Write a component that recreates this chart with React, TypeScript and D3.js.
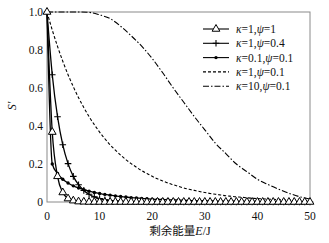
import React from "react";
import * as d3 from "d3";

const E_INT: number[] = d3.range(0, 51);
const E_STEP2: number[] = d3.range(0, 51, 2);

const S_K1_P1: number[] = [
  1, 0.368, 0.135, 0.05, 0.018, 0.007, 0.002, 0.001, 0, 0,
  0, 0, 0, 0, 0, 0, 0, 0, 0, 0,
  0, 0, 0, 0, 0, 0, 0, 0, 0, 0,
  0, 0, 0, 0, 0, 0, 0, 0, 0, 0,
  0, 0, 0, 0, 0, 0, 0, 0, 0, 0, 0,
];
const S_K1_P04: number[] = [
  1, 0.67, 0.449, 0.301, 0.202, 0.135, 0.091, 0.061, 0.041, 0.027,
  0.018, 0.012, 0.008, 0.006, 0.004, 0.002, 0.002, 0.001, 0.001, 0,
  0, 0, 0, 0, 0, 0, 0, 0, 0, 0,
  0, 0, 0, 0, 0, 0, 0, 0, 0, 0,
  0, 0, 0, 0, 0, 0, 0, 0, 0, 0, 0,
];
const S_K01_P01: number[] = [
  1, 0.2, 0.15, 0.12, 0.1, 0.085, 0.074, 0.065, 0.057, 0.05,
  0.045, 0.04, 0.036, 0.032, 0.029, 0.026, 0.023, 0.021, 0.019, 0.017,
  0.015, 0.014, 0.013, 0.012, 0.011, 0.01, 0.009, 0.008, 0.007, 0.007,
  0.006, 0.006, 0.005, 0.005, 0.004, 0.004, 0.004, 0.003, 0.003, 0.003,
  0.003, 0.002, 0.002, 0.002, 0.002, 0.002, 0.001, 0.001, 0.001, 0.001, 0.001,
];
const S_K1_P01: number[] = [
  1, 0.905, 0.819, 0.741, 0.67, 0.607, 0.549, 0.497, 0.449, 0.407,
  0.368, 0.333, 0.301, 0.273, 0.247, 0.223, 0.202, 0.183, 0.165, 0.15,
  0.135, 0.122, 0.111, 0.1, 0.091, 0.082, 0.074, 0.067, 0.061, 0.055,
  0.05, 0.045, 0.041, 0.037, 0.033, 0.03, 0.027, 0.025, 0.022, 0.02,
  0.018, 0.017, 0.015, 0.014, 0.012, 0.011, 0.01, 0.009, 0.008, 0.007, 0.007,
];
const S_K10_P01: number[] = [
  1, 1, 1, 1, 0.998, 0.985, 0.965, 0.925, 0.875, 0.82,
  0.755, 0.68, 0.6, 0.525, 0.45, 0.38, 0.31, 0.255, 0.2, 0.16,
  0.12, 0.092, 0.068, 0.046, 0.028, 0.015,
];

const X_TICKS: number[] = [0, 10, 20, 30, 40, 50];
const Y_TICKS: number[] = [0, 0.2, 0.4, 0.6, 0.8, 1.0];

const LEGEND = [
  { k: "1", p: "1", marker: "tri", dash: "" },
  { k: "1", p: "0.4", marker: "plus", dash: "" },
  { k: "0.1", p: "0.1", marker: "dot", dash: "" },
  { k: "1", p: "0.1", marker: "none", dash: "3,2" },
  { k: "10", p: "0.1", marker: "none", dash: "6,2,1.5,2" },
];

const W = 329;
const H = 243;
const x = d3.scaleLinear().domain([0, 50]).range([47, 310]);
const y = d3.scaleLinear().domain([0, 1]).range([202, 12]);

const line = d3
  .line<[number, number]>()
  .x((d) => x(d[0]))
  .y((d) => y(d[1]))
  .curve(d3.curveMonotoneX);

const zip = (xs: number[], ys: number[]): [number, number][] =>
  xs.map((e, i) => [e, ys[i]] as [number, number]);

const triPath = d3.symbol(d3.symbolTriangle, 26)() as string;
const plusPath = "M-3.3,0H3.3M0,-3.3V3.3";

function Marker({ type, cx, cy }: { type: string; cx: number; cy: number }) {
  if (type === "tri")
    return (
      <path d={triPath} transform={`translate(${cx},${cy})`} fill="#fff" stroke="#000" strokeWidth={1} />
    );
  if (type === "plus")
    return <path d={plusPath} transform={`translate(${cx},${cy})`} stroke="#000" strokeWidth={1.1} />;
  if (type === "dot") return <circle cx={cx} cy={cy} r={1.7} fill="#000" />;
  return null;
}

const serif = "'Liberation Serif', 'Times New Roman', serif";

export default function App() {
  const dotData = zip(E_INT, S_K01_P01);
  const plusData = zip(E_INT, S_K1_P04);
  const triData = zip(E_INT, S_K1_P1);
  return (
    <svg
      width={W}
      height={H}
      style={{ position: "fixed", left: 0, top: 0, background: "#fff" }}
      fontFamily={serif}
    >
      <rect x={0} y={0} width={W} height={H} fill="#fff" />
      <rect
        x={x(0)}
        y={y(1)}
        width={x(50) - x(0)}
        height={y(0) - y(1)}
        fill="none"
        stroke="#8a8a8a"
        strokeWidth={1}
      />
      {Y_TICKS.map((t) => (
        <text key={"y" + t} x={43} y={y(t) + 4} textAnchor="end" fontSize={11.5} fill="#111">
          {t === 0 ? "0" : t.toFixed(1)}
        </text>
      ))}
      {X_TICKS.map((t) => (
        <text key={"x" + t} x={x(t)} y={220} textAnchor="middle" fontSize={11.5} fill="#111">
          {t}
        </text>
      ))}
      <text
        transform={`translate(16,106) rotate(-90)`}
        textAnchor="middle"
        fontSize={12}
        fontStyle="italic"
        fill="#111"
      >
        S'
      </text>
      <text x={180} y={235} textAnchor="middle" fontSize={12} fill="#111">
        <tspan fontFamily="'Noto Sans CJK SC', sans-serif" fontSize={11.5}>剩余能量</tspan>
        <tspan fontStyle="italic">E</tspan>
        <tspan>/J</tspan>
      </text>
      <path d={line(zip(E_STEP2, S_K10_P01)) as string} fill="none" stroke="#000" strokeWidth={1.1} strokeDasharray="6,2,1.5,2" />
      <path d={line(zip(E_INT, S_K1_P01)) as string} fill="none" stroke="#000" strokeWidth={1.1} strokeDasharray="3,2" />
      <path d={line(dotData) as string} fill="none" stroke="#000" strokeWidth={1.3} />
      {dotData.map((d, i) => (
        <Marker key={"d" + i} type="dot" cx={x(d[0])} cy={y(d[1])} />
      ))}
      <path d={line(plusData) as string} fill="none" stroke="#000" strokeWidth={1.3} />
      {plusData.map((d, i) => (
        <Marker key={"p" + i} type="plus" cx={x(d[0])} cy={y(d[1])} />
      ))}
      <path d={line(triData) as string} fill="none" stroke="#000" strokeWidth={1.3} />
      {triData.map((d, i) => (
        <Marker key={"t" + i} type="tri" cx={x(d[0])} cy={y(d[1])} />
      ))}
      {LEGEND.map((l, i) => {
        const ly = 29 + i * 14.3;
        return (
          <g key={"l" + i}>
            <line x1={203} x2={229} y1={ly} y2={ly} stroke="#000" strokeWidth={1.1} strokeDasharray={l.dash || undefined} />
            <Marker type={l.marker} cx={216} cy={ly} />
            <text x={236} y={ly + 4} fontSize={11.5} fill="#111">
              <tspan fontStyle="italic">κ</tspan>
              <tspan>={l.k},</tspan>
              <tspan fontStyle="italic">ψ</tspan>
              <tspan>={l.p}</tspan>
            </text>
          </g>
        );
      })}
    </svg>
  );
}
